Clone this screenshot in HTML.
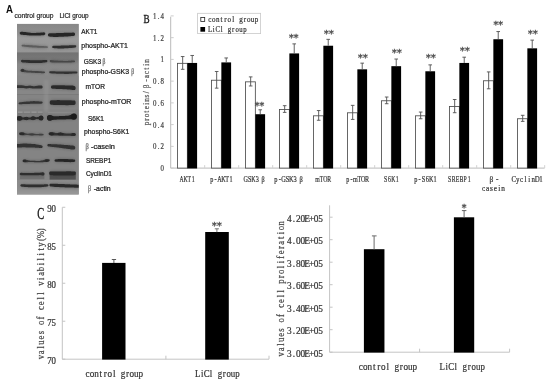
<!DOCTYPE html>
<html lang="en"><head><meta charset="utf-8"><title>Figure</title>
<style>html,body{margin:0;padding:0;background:#fff;}body{width:550px;height:390px;overflow:hidden;}svg{display:block;}.m{font-family:"Liberation Serif", "DejaVu Serif", serif;}.s{font-family:"Liberation Sans", "DejaVu Sans", sans-serif;}.r{font-family:"Liberation Serif", "DejaVu Serif", serif;}</style>
</head><body>
<svg width="550" height="390" viewBox="0 0 550 390">
<defs>
<filter id="b1" filterUnits="userSpaceOnUse" x="0" y="0" width="160" height="200"><feGaussianBlur stdDeviation="0.68"/></filter>
<filter id="b2" filterUnits="userSpaceOnUse" x="0" y="0" width="160" height="200"><feGaussianBlur stdDeviation="1.1"/></filter>
<filter id="b3" filterUnits="userSpaceOnUse" x="0" y="0" width="160" height="200"><feGaussianBlur stdDeviation="2"/></filter>
<filter id="tb" x="-5%" y="-20%" width="110%" height="140%"><feGaussianBlur stdDeviation="0.3"/></filter>
<clipPath id="blotclip"><rect x="17" y="23.8" width="61.7" height="170.6"/></clipPath>
<linearGradient id="p1" x1="0" y1="0" x2="0" y2="1"><stop offset="0" stop-color="#888"/><stop offset="0.2" stop-color="#8c8c8c"/><stop offset="0.5" stop-color="#9a9a9a"/><stop offset="1" stop-color="#959595"/></linearGradient>
<linearGradient id="p2" x1="0" y1="0" x2="0" y2="1"><stop offset="0" stop-color="#727272"/><stop offset="0.3" stop-color="#787878"/><stop offset="0.5" stop-color="#888"/><stop offset="1" stop-color="#8a8a8a"/></linearGradient>
<linearGradient id="p3" x1="0" y1="0" x2="0" y2="1"><stop offset="0" stop-color="#8a8a8a"/><stop offset="0.6" stop-color="#8e8e8e"/><stop offset="1" stop-color="#9a9a9a"/></linearGradient>
</defs>
<g id="panelA">
<text class="s" x="6.0" y="12.8" font-size="10.2" font-weight="bold" textLength="7" lengthAdjust="spacingAndGlyphs" fill="#111">A</text>
<text class="s" x="14.4" y="17.9" font-size="7.5" fill="#1c1c1c" stroke="#1c1c1c" stroke-width="0.2" textLength="39.2" lengthAdjust="spacingAndGlyphs">control group</text>
<text class="s" x="59.4" y="17.9" font-size="7.5" fill="#1c1c1c" stroke="#1c1c1c" stroke-width="0.2" textLength="29.2" lengthAdjust="spacingAndGlyphs">LiCl group</text>
<g clip-path="url(#blotclip)">
<rect x="17" y="23.8" width="62" height="171" fill="#838383"/>
<rect x="17" y="23.8" width="61.6" height="28.8" fill="url(#p1)"/>
<rect x="17" y="52.5" width="61.6" height="23.4" fill="url(#p2)"/>
<rect x="17" y="75.8" width="62" height="19" fill="#878787"/>
<rect x="17" y="94.3" width="62" height="0.8" fill="#777"/>
<rect x="17" y="95" width="62" height="14.4" fill="#848484"/>
<rect x="17" y="109.2" width="62" height="29" fill="#828282"/>
<rect x="17" y="138" width="62" height="42" fill="#848484"/>
<rect x="17" y="180" width="62" height="15" fill="url(#p3)"/>
<rect x="44.2" y="80" width="4.2" height="32" fill="#9a9a9a" opacity="0.4" filter="url(#b2)"/>
<rect x="49.6" y="171.8" width="26.2" height="7.8" fill="#444" opacity="0.8" filter="url(#b1)"/>
<rect x="19.8" y="172.8" width="24.6" height="6.4" fill="#5a5a5a" opacity="0.45" filter="url(#b1)"/>
<path d="M19.8 32.3L22.1 31.1L24.4 31.2L26.7 31.5L29.0 31.8L31.3 32.1L33.7 32.1L36.0 32.1L38.3 32.0L40.6 31.9L42.9 31.7L45.2 32.8L45.2 34.5L42.9 36.0L40.6 36.2L38.3 36.3L36.0 36.3L33.7 36.3L31.3 36.3L29.0 36.1L26.7 35.9L24.4 35.7L22.1 35.5L19.8 34.1Z" fill="#3a3a3a" filter="url(#b2)" opacity="0.3"/>
<path d="M48.0 34.0L50.5 32.5L52.9 32.5L55.4 32.4L57.8 32.3L60.3 32.2L62.7 32.1L65.2 32.0L67.6 32.0L70.1 31.9L72.5 31.9L75.0 33.3L75.0 35.2L72.5 36.8L70.1 37.0L67.6 37.2L65.2 37.3L62.7 37.4L60.3 37.5L57.8 37.6L55.4 37.7L52.9 37.6L50.5 37.4L48.0 35.9Z" fill="#3a3a3a" filter="url(#b2)" opacity="0.3"/>
<path d="M21.6 44.9L24.0 44.0L26.4 44.2L28.8 44.3L31.2 44.5L33.6 44.7L36.0 44.9L38.4 45.1L40.8 45.2L43.2 45.4L45.6 45.5L48.0 46.5L48.0 47.7L45.6 48.6L43.2 48.6L40.8 48.6L38.4 48.5L36.0 48.4L33.6 48.2L31.2 48.1L28.8 47.9L26.4 47.6L24.0 47.4L21.6 46.2Z" fill="#3a3a3a" filter="url(#b2)" opacity="0.3"/>
<path d="M52.2 46.1L54.4 45.0L56.6 45.0L58.7 44.9L60.9 44.9L63.1 44.8L65.3 44.7L67.5 44.7L69.7 44.6L71.8 44.5L74.0 44.4L76.2 45.5L76.2 47.1L74.0 48.5L71.8 48.7L69.7 48.8L67.5 49.0L65.3 49.0L63.1 49.1L60.9 49.2L58.7 49.2L56.6 49.1L54.4 48.9L52.2 47.7Z" fill="#3a3a3a" filter="url(#b2)" opacity="0.3"/>
<path d="M21.0 60.2L23.4 59.1L25.8 59.2L28.2 59.3L30.6 59.4L33.0 59.5L35.4 59.5L37.8 59.5L40.2 59.5L42.6 59.4L45.0 59.2L47.4 60.3L47.4 61.8L45.0 63.2L42.6 63.5L40.2 63.7L37.8 63.8L35.4 63.8L33.0 63.8L30.6 63.8L28.2 63.6L25.8 63.4L23.4 63.2L21.0 61.8Z" fill="#3a3a3a" filter="url(#b2)" opacity="0.3"/>
<path d="M49.8 60.4L52.1 59.4L54.4 59.6L56.7 59.8L59.0 59.9L61.3 60.0L63.5 60.1L65.8 60.2L68.1 60.1L70.4 59.9L72.7 59.8L75.0 60.7L75.0 62.0L72.7 63.1L70.4 63.2L68.1 63.3L65.8 63.3L63.5 63.3L61.3 63.3L59.0 63.3L56.7 63.3L54.4 63.2L52.1 63.1L49.8 61.9Z" fill="#3a3a3a" filter="url(#b2)" opacity="0.3"/>
<path d="M20.4 69.6L22.6 68.6L24.9 69.1L27.1 69.7L29.3 70.0L31.6 70.1L33.8 70.2L36.1 70.3L38.3 70.4L40.5 70.5L42.8 70.7L45.0 71.7L45.0 73.0L42.8 73.9L40.5 73.9L38.3 73.8L36.1 73.7L33.8 73.6L31.6 73.4L29.3 73.3L27.1 73.2L24.9 73.0L22.6 72.7L20.4 71.3Z" fill="#3a3a3a" filter="url(#b2)" opacity="0.3"/>
<path d="M49.2 71.5L51.8 70.5L54.3 70.6L56.9 70.6L59.5 70.7L62.0 70.7L64.6 70.7L67.1 70.7L69.7 70.7L72.3 70.7L74.8 70.7L77.4 71.7L77.4 73.1L74.8 74.3L72.3 74.4L69.7 74.5L67.1 74.6L64.6 74.6L62.0 74.6L59.5 74.5L56.9 74.5L54.3 74.3L51.8 74.1L49.2 72.9Z" fill="#3a3a3a" filter="url(#b2)" opacity="0.3"/>
<path d="M15.0 85.8L17.5 84.5L20.0 84.5L22.5 84.7L25.0 85.0L27.5 85.1L30.1 85.0L32.6 85.2L35.1 85.3L37.6 85.0L40.1 84.8L42.6 86.2L42.6 88.0L40.1 89.3L37.6 89.2L35.1 89.2L32.6 89.1L30.1 89.0L27.5 89.0L25.0 89.0L22.5 88.8L20.0 88.7L17.5 88.7L15.0 87.5Z" fill="#3a3a3a" filter="url(#b2)" opacity="0.3"/>
<path d="M51.0 86.1L53.2 84.6L55.5 84.5L57.7 84.5L59.9 84.5L62.2 84.6L64.4 84.6L66.7 84.6L68.9 84.7L71.1 84.8L73.4 85.0L75.6 87.0L75.6 89.2L73.4 90.8L71.1 90.5L68.9 90.3L66.7 90.1L64.4 90.0L62.2 89.9L59.9 89.8L57.7 89.7L55.5 89.6L53.2 89.5L51.0 88.0Z" fill="#3a3a3a" filter="url(#b2)" opacity="0.3"/>
<path d="M18.6 102.7L20.8 101.5L23.0 101.2L25.1 101.0L27.3 100.8L29.5 100.6L31.7 100.5L33.9 100.4L36.1 100.5L38.2 100.5L40.4 100.6L42.6 101.8L42.6 103.3L40.4 104.4L38.2 104.4L36.1 104.4L33.9 104.5L31.7 104.5L29.5 104.6L27.3 104.7L25.1 104.8L23.0 104.9L20.8 105.0L18.6 104.0Z" fill="#3a3a3a" filter="url(#b2)" opacity="0.3"/>
<path d="M49.8 101.3L52.1 99.5L54.5 99.4L56.8 99.4L59.2 99.4L61.5 99.4L63.9 99.4L66.2 99.5L68.6 99.5L70.9 99.6L73.3 99.7L75.6 101.5L75.6 103.9L73.3 105.7L70.9 105.8L68.6 105.9L66.2 105.9L63.9 105.9L61.5 105.9L59.2 105.8L56.8 105.8L54.5 105.7L52.1 105.6L49.8 103.7Z" fill="#3a3a3a" filter="url(#b2)" opacity="0.3"/>
<path d="M15.0 117.3L17.6 115.6L20.2 115.8L22.7 116.3L25.3 116.4L27.9 116.4L30.5 116.3L33.1 116.1L35.7 116.2L38.2 116.0L40.8 115.4L43.4 116.9L43.4 119.1L40.8 120.7L38.2 120.3L35.7 120.3L33.1 120.5L30.5 120.5L27.9 120.5L25.3 120.6L22.7 120.7L20.2 121.0L17.6 121.1L15.0 119.3Z" fill="#3a3a3a" filter="url(#b2)" opacity="0.3"/>
<path d="M47.0 116.6L49.7 114.8L52.4 115.1L55.1 115.4L57.8 115.4L60.5 115.4L63.1 115.2L65.8 115.1L68.5 114.7L71.2 113.9L73.9 113.3L76.6 115.2L76.6 117.8L73.9 120.0L71.2 120.0L68.5 120.0L65.8 120.1L63.1 120.2L60.5 120.3L57.8 120.4L55.1 120.5L52.4 120.7L49.7 120.9L47.0 119.0Z" fill="#3a3a3a" filter="url(#b2)" opacity="0.3"/>
<path d="M19.2 132.8L21.4 131.7L23.6 132.0L25.9 132.5L28.1 132.8L30.3 132.8L32.5 132.9L34.7 133.0L36.9 133.2L39.2 133.1L41.4 133.0L43.6 134.0L43.6 135.2L41.4 136.2L39.2 136.1L36.9 136.0L34.7 136.0L32.5 136.0L30.3 136.0L28.1 135.9L25.9 135.9L23.6 135.9L21.4 135.8L19.2 134.4Z" fill="#3a3a3a" filter="url(#b2)" opacity="0.3"/>
<path d="M48.6 132.9L51.1 131.6L53.5 131.8L56.0 132.1L58.5 132.1L61.0 132.0L63.4 132.3L65.9 132.6L68.4 132.7L70.9 132.6L73.3 132.4L75.8 133.7L75.8 135.3L73.3 136.6L70.9 136.6L68.4 136.5L65.9 136.5L63.4 136.4L61.0 136.4L58.5 136.3L56.0 136.2L53.5 136.1L51.1 136.1L48.6 134.7Z" fill="#3a3a3a" filter="url(#b2)" opacity="0.3"/>
<path d="M15.0 144.9L17.5 143.3L20.0 143.1L22.5 142.9L25.0 142.8L27.5 142.9L30.1 143.0L32.6 143.2L35.1 143.5L37.6 143.9L40.1 144.3L42.6 145.9L42.6 147.5L40.1 148.7L37.6 148.5L35.1 148.4L32.6 148.3L30.1 148.2L27.5 148.2L25.0 148.1L22.5 148.1L20.0 148.2L17.5 148.2L15.0 146.8Z" fill="#3a3a3a" filter="url(#b2)" opacity="0.3"/>
<path d="M47.4 144.5L49.9 143.4L52.5 143.4L55.0 143.5L57.5 143.6L60.0 143.8L62.6 144.0L65.1 144.2L67.6 144.4L70.1 144.6L72.7 144.8L75.2 146.7L75.2 148.8L72.7 150.3L70.1 150.0L67.6 149.6L65.1 149.3L62.6 148.9L60.0 148.6L57.5 148.3L55.0 148.0L52.5 147.7L49.9 147.4L47.4 146.0Z" fill="#3a3a3a" filter="url(#b2)" opacity="0.3"/>
<path d="M22.8 160.1L25.3 159.1L27.7 159.4L30.2 159.9L32.6 160.0L35.1 160.1L37.5 160.1L40.0 160.0L42.4 159.5L44.9 159.0L47.3 158.6L49.8 159.5L49.8 161.0L47.3 162.5L44.9 162.8L42.4 162.9L40.0 163.0L37.5 163.0L35.1 162.9L32.6 162.9L30.2 162.9L27.7 162.9L25.3 162.9L22.8 161.6Z" fill="#3a3a3a" filter="url(#b2)" opacity="0.3"/>
<path d="M54.6 159.8L56.5 158.5L58.3 158.3L60.2 158.2L62.1 158.1L64.0 158.2L65.8 158.3L67.7 158.4L69.6 158.4L71.5 158.5L73.3 158.6L75.2 159.9L75.2 161.5L73.3 162.8L71.5 162.9L69.6 162.9L67.7 162.8L65.8 162.7L64.0 162.6L62.1 162.6L60.2 162.5L58.3 162.6L56.5 162.6L54.6 161.4Z" fill="#3a3a3a" filter="url(#b2)" opacity="0.3"/>
<path d="M19.8 173.2L22.0 172.1L24.3 172.1L26.5 172.1L28.7 172.2L31.0 172.2L33.2 172.1L35.5 172.1L37.7 172.0L39.9 171.9L42.2 171.7L44.4 173.0L44.4 174.8L42.2 176.2L39.9 176.0L37.7 175.9L35.5 175.9L33.2 176.0L31.0 176.0L28.7 176.0L26.5 176.0L24.3 176.0L22.0 176.0L19.8 174.8Z" fill="#3a3a3a" filter="url(#b2)" opacity="0.3"/>
<path d="M49.2 172.2L51.6 170.6L54.0 170.6L56.5 170.6L58.9 170.6L61.3 170.6L63.7 170.6L66.1 170.6L68.5 170.6L71.0 170.6L73.4 170.7L75.8 172.3L75.8 174.5L73.4 176.1L71.0 176.2L68.5 176.3L66.1 176.3L63.7 176.3L61.3 176.3L58.9 176.3L56.5 176.2L54.0 176.1L51.6 176.0L49.2 174.4Z" fill="#3a3a3a" filter="url(#b2)" opacity="0.3"/>
<path d="M20.4 184.6L22.9 183.5L25.5 183.6L28.0 183.7L30.6 183.7L33.1 183.7L35.7 183.7L38.2 183.7L40.8 183.7L43.3 183.6L45.9 183.5L48.4 184.6L48.4 186.1L45.9 187.4L43.3 187.7L40.8 188.0L38.2 188.1L35.7 188.1L33.1 188.1L30.6 188.0L28.0 187.9L25.5 187.7L22.9 187.5L20.4 186.2Z" fill="#3a3a3a" filter="url(#b2)" opacity="0.3"/>
<path d="M49.4 184.2L52.2 183.0L55.0 183.0L57.7 183.1L60.5 183.2L63.3 183.3L66.1 183.4L68.9 183.5L71.7 183.7L74.4 183.8L77.2 183.9L80.0 185.4L80.0 187.2L77.2 188.5L74.4 188.4L71.7 188.3L68.9 188.3L66.1 188.2L63.3 188.1L60.5 188.0L57.7 187.8L55.0 187.6L52.2 187.4L49.4 185.9Z" fill="#3a3a3a" filter="url(#b2)" opacity="0.3"/>
<path d="M19.8 32.6L20.5 31.9L21.3 31.8L22.0 31.8L22.7 31.8L23.4 31.9L24.2 31.9L24.9 32.0L25.6 32.1L26.3 32.2L27.1 32.3L27.8 32.4L28.5 32.5L29.2 32.6L30.0 32.7L30.7 32.8L31.4 32.9L32.1 32.9L32.9 32.9L33.6 32.9L34.3 32.9L35.0 32.9L35.8 32.9L36.5 32.8L37.2 32.8L37.9 32.8L38.7 32.8L39.4 32.7L40.1 32.7L40.8 32.6L41.6 32.6L42.3 32.5L43.0 32.4L43.7 32.3L44.5 32.4L45.2 33.0L45.2 34.2L44.5 35.0L43.7 35.2L43.0 35.2L42.3 35.3L41.6 35.3L40.8 35.4L40.1 35.5L39.4 35.5L38.7 35.5L37.9 35.5L37.2 35.5L36.5 35.5L35.8 35.6L35.0 35.6L34.3 35.6L33.6 35.6L32.9 35.6L32.1 35.6L31.4 35.6L30.7 35.5L30.0 35.4L29.2 35.4L28.5 35.3L27.8 35.3L27.1 35.2L26.3 35.1L25.6 35.1L24.9 35.0L24.2 34.9L23.4 34.9L22.7 34.8L22.0 34.8L21.3 34.7L20.5 34.6L19.8 33.8Z" fill="#282828" filter="url(#b1)" opacity="1"/>
<path d="M48.0 34.3L48.8 33.4L49.5 33.3L50.3 33.3L51.1 33.2L51.9 33.2L52.6 33.2L53.4 33.2L54.2 33.2L54.9 33.2L55.7 33.2L56.5 33.1L57.3 33.1L58.0 33.1L58.8 33.0L59.6 33.0L60.3 33.0L61.1 33.0L61.9 32.9L62.7 32.9L63.4 32.9L64.2 32.8L65.0 32.8L65.7 32.8L66.5 32.8L67.3 32.8L68.1 32.7L68.8 32.7L69.6 32.7L70.4 32.7L71.1 32.7L71.9 32.7L72.7 32.6L73.5 32.6L74.2 32.7L75.0 33.6L75.0 34.9L74.2 35.8L73.5 35.9L72.7 36.0L71.9 36.1L71.1 36.1L70.4 36.2L69.6 36.2L68.8 36.3L68.1 36.4L67.3 36.4L66.5 36.5L65.7 36.5L65.0 36.6L64.2 36.6L63.4 36.7L62.7 36.7L61.9 36.7L61.1 36.8L60.3 36.8L59.6 36.8L58.8 36.8L58.0 36.9L57.3 36.9L56.5 36.9L55.7 37.0L54.9 37.0L54.2 36.9L53.4 36.9L52.6 36.8L51.9 36.8L51.1 36.7L50.3 36.7L49.5 36.6L48.8 36.5L48.0 35.6Z" fill="#262626" filter="url(#b1)" opacity="1"/>
<path d="M21.6 45.2L22.4 44.7L23.1 44.7L23.9 44.8L24.6 44.8L25.4 44.9L26.1 44.9L26.9 45.0L27.6 45.0L28.4 45.1L29.1 45.1L29.9 45.2L30.7 45.2L31.4 45.3L32.2 45.3L32.9 45.4L33.7 45.4L34.4 45.5L35.2 45.6L35.9 45.6L36.7 45.7L37.4 45.7L38.2 45.8L38.9 45.9L39.7 45.9L40.5 46.0L41.2 46.0L42.0 46.1L42.7 46.1L43.5 46.1L44.2 46.2L45.0 46.2L45.7 46.3L46.5 46.3L47.2 46.4L48.0 46.8L48.0 47.4L47.2 47.8L46.5 47.8L45.7 47.8L45.0 47.8L44.2 47.8L43.5 47.8L42.7 47.8L42.0 47.8L41.2 47.8L40.5 47.8L39.7 47.8L38.9 47.8L38.2 47.7L37.4 47.7L36.7 47.6L35.9 47.6L35.2 47.6L34.4 47.5L33.7 47.5L32.9 47.4L32.2 47.4L31.4 47.3L30.7 47.3L29.9 47.2L29.1 47.2L28.4 47.1L27.6 47.0L26.9 46.9L26.1 46.8L25.4 46.8L24.6 46.7L23.9 46.6L23.1 46.5L22.4 46.4L21.6 45.9Z" fill="#5c5c5c" filter="url(#b1)" opacity="1"/>
<path d="M52.2 46.4L52.9 45.9L53.6 45.7L54.3 45.7L54.9 45.7L55.6 45.7L56.3 45.7L57.0 45.7L57.7 45.7L58.4 45.7L59.1 45.7L59.7 45.7L60.4 45.7L61.1 45.6L61.8 45.6L62.5 45.6L63.2 45.6L63.9 45.5L64.5 45.5L65.2 45.5L65.9 45.5L66.6 45.4L67.3 45.4L68.0 45.4L68.7 45.4L69.3 45.3L70.0 45.3L70.7 45.3L71.4 45.3L72.1 45.3L72.8 45.2L73.5 45.2L74.1 45.2L74.8 45.2L75.5 45.3L76.2 45.8L76.2 46.8L75.5 47.4L74.8 47.6L74.1 47.7L73.5 47.7L72.8 47.8L72.1 47.9L71.4 47.9L70.7 48.0L70.0 48.1L69.3 48.1L68.7 48.1L68.0 48.2L67.3 48.2L66.6 48.2L65.9 48.3L65.2 48.3L64.5 48.3L63.9 48.4L63.2 48.4L62.5 48.4L61.8 48.4L61.1 48.5L60.4 48.5L59.7 48.5L59.1 48.5L58.4 48.4L57.7 48.4L57.0 48.3L56.3 48.3L55.6 48.3L54.9 48.2L54.3 48.2L53.6 48.1L52.9 48.0L52.2 47.4Z" fill="#2e2e2e" filter="url(#b1)" opacity="1"/>
<path d="M21.0 60.5L21.8 59.9L22.5 59.8L23.3 59.9L24.0 59.9L24.8 59.9L25.5 60.0L26.3 60.0L27.0 60.0L27.8 60.1L28.5 60.1L29.3 60.1L30.1 60.2L30.8 60.2L31.6 60.2L32.3 60.2L33.1 60.2L33.8 60.2L34.6 60.2L35.3 60.3L36.1 60.3L36.8 60.3L37.6 60.3L38.3 60.3L39.1 60.3L39.9 60.3L40.6 60.3L41.4 60.2L42.1 60.2L42.9 60.1L43.6 60.1L44.4 60.0L45.1 60.0L45.9 60.0L46.6 60.0L47.4 60.6L47.4 61.5L46.6 62.2L45.9 62.3L45.1 62.4L44.4 62.5L43.6 62.6L42.9 62.7L42.1 62.8L41.4 62.9L40.6 63.0L39.9 63.1L39.1 63.1L38.3 63.1L37.6 63.1L36.8 63.1L36.1 63.1L35.3 63.1L34.6 63.0L33.8 63.0L33.1 63.0L32.3 63.0L31.6 63.0L30.8 63.0L30.1 63.0L29.3 63.0L28.5 62.9L27.8 62.8L27.0 62.8L26.3 62.7L25.5 62.6L24.8 62.6L24.0 62.5L23.3 62.4L22.5 62.4L21.8 62.2L21.0 61.5Z" fill="#2e2e2e" filter="url(#b1)" opacity="1"/>
<path d="M49.8 60.6L50.5 60.1L51.2 60.1L52.0 60.2L52.7 60.2L53.4 60.3L54.1 60.4L54.8 60.5L55.6 60.5L56.3 60.6L57.0 60.6L57.7 60.6L58.4 60.7L59.2 60.7L59.9 60.7L60.6 60.8L61.3 60.8L62.0 60.8L62.8 60.8L63.5 60.9L64.2 60.9L64.9 60.9L65.6 61.0L66.4 61.0L67.1 60.9L67.8 60.9L68.5 60.8L69.2 60.8L70.0 60.7L70.7 60.7L71.4 60.6L72.1 60.6L72.8 60.5L73.6 60.5L74.3 60.5L75.0 60.9L75.0 61.7L74.3 62.2L73.6 62.3L72.8 62.3L72.1 62.3L71.4 62.4L70.7 62.4L70.0 62.4L69.2 62.5L68.5 62.5L67.8 62.5L67.1 62.6L66.4 62.6L65.6 62.6L64.9 62.6L64.2 62.6L63.5 62.6L62.8 62.6L62.0 62.6L61.3 62.6L60.6 62.6L59.9 62.5L59.2 62.5L58.4 62.5L57.7 62.5L57.0 62.5L56.3 62.5L55.6 62.5L54.8 62.5L54.1 62.5L53.4 62.4L52.7 62.4L52.0 62.4L51.2 62.3L50.5 62.2L49.8 61.6Z" fill="#464646" filter="url(#b1)" opacity="1"/>
<path d="M20.4 69.9L21.1 69.3L21.8 69.2L22.5 69.2L23.2 69.3L23.9 69.5L24.6 69.8L25.3 70.0L26.0 70.3L26.7 70.5L27.4 70.6L28.1 70.7L28.8 70.7L29.5 70.7L30.2 70.8L30.9 70.8L31.6 70.8L32.3 70.9L33.1 70.9L33.8 70.9L34.5 71.0L35.2 71.0L35.9 71.0L36.6 71.1L37.3 71.1L38.0 71.1L38.7 71.2L39.4 71.2L40.1 71.3L40.8 71.3L41.5 71.3L42.2 71.4L42.9 71.4L43.6 71.5L44.3 71.6L45.0 72.0L45.0 72.7L44.3 73.1L43.6 73.2L42.9 73.2L42.2 73.2L41.5 73.2L40.8 73.1L40.1 73.1L39.4 73.1L38.7 73.1L38.0 73.0L37.3 73.0L36.6 73.0L35.9 72.9L35.2 72.9L34.5 72.8L33.8 72.8L33.1 72.8L32.3 72.7L31.6 72.7L30.9 72.6L30.2 72.6L29.5 72.6L28.8 72.5L28.1 72.5L27.4 72.4L26.7 72.4L26.0 72.3L25.3 72.2L24.6 72.2L23.9 72.1L23.2 72.0L22.5 71.9L21.8 71.8L21.1 71.6L20.4 70.9Z" fill="#444444" filter="url(#b1)" opacity="1"/>
<path d="M49.2 71.8L50.0 71.2L50.8 71.2L51.6 71.3L52.4 71.3L53.2 71.3L54.0 71.3L54.8 71.3L55.6 71.4L56.5 71.4L57.3 71.4L58.1 71.4L58.9 71.4L59.7 71.4L60.5 71.4L61.3 71.4L62.1 71.5L62.9 71.5L63.7 71.5L64.5 71.5L65.3 71.5L66.1 71.5L66.9 71.5L67.7 71.5L68.5 71.5L69.3 71.5L70.1 71.5L71.0 71.5L71.8 71.5L72.6 71.5L73.4 71.4L74.2 71.4L75.0 71.4L75.8 71.4L76.6 71.4L77.4 72.0L77.4 72.8L76.6 73.4L75.8 73.5L75.0 73.5L74.2 73.6L73.4 73.6L72.6 73.6L71.8 73.7L71.0 73.7L70.1 73.8L69.3 73.8L68.5 73.9L67.7 73.9L66.9 73.9L66.1 73.9L65.3 73.9L64.5 73.9L63.7 73.8L62.9 73.8L62.1 73.8L61.3 73.8L60.5 73.8L59.7 73.8L58.9 73.8L58.1 73.8L57.3 73.7L56.5 73.7L55.6 73.6L54.8 73.6L54.0 73.5L53.2 73.5L52.4 73.4L51.6 73.4L50.8 73.3L50.0 73.2L49.2 72.6Z" fill="#323232" filter="url(#b1)" opacity="1"/>
<path d="M15.0 86.2L15.8 85.4L16.6 85.3L17.4 85.3L18.2 85.3L18.9 85.3L19.7 85.2L20.5 85.2L21.3 85.2L22.1 85.2L22.9 85.4L23.7 85.6L24.5 85.8L25.3 86.0L26.0 86.1L26.8 86.0L27.6 85.9L28.4 85.8L29.2 85.7L30.0 85.6L30.8 85.7L31.6 85.9L32.3 86.1L33.1 86.2L33.9 86.3L34.7 86.2L35.5 86.1L36.3 85.9L37.1 85.8L37.9 85.7L38.7 85.6L39.4 85.6L40.2 85.6L41.0 85.5L41.8 85.6L42.6 86.5L42.6 87.7L41.8 88.6L41.0 88.6L40.2 88.5L39.4 88.5L38.7 88.4L37.9 88.4L37.1 88.4L36.3 88.4L35.5 88.5L34.7 88.6L33.9 88.6L33.1 88.6L32.3 88.4L31.6 88.3L30.8 88.2L30.0 88.1L29.2 88.1L28.4 88.2L27.6 88.3L26.8 88.4L26.0 88.4L25.3 88.3L24.5 88.2L23.7 88.1L22.9 88.0L22.1 87.9L21.3 87.9L20.5 87.9L19.7 87.9L18.9 87.9L18.2 87.9L17.4 88.0L16.6 88.0L15.8 88.0L15.0 87.2Z" fill="#323232" filter="url(#b1)" opacity="1"/>
<path d="M51.0 86.4L51.7 85.5L52.4 85.4L53.1 85.3L53.8 85.3L54.5 85.3L55.2 85.3L55.9 85.3L56.6 85.3L57.3 85.3L58.0 85.3L58.7 85.3L59.4 85.3L60.1 85.3L60.8 85.3L61.5 85.3L62.2 85.3L62.9 85.3L63.7 85.3L64.4 85.3L65.1 85.4L65.8 85.4L66.5 85.4L67.2 85.4L67.9 85.4L68.6 85.4L69.3 85.5L70.0 85.5L70.7 85.5L71.4 85.5L72.1 85.6L72.8 85.6L73.5 85.7L74.2 85.9L74.9 86.2L75.6 87.4L75.6 89.0L74.9 89.9L74.2 90.1L73.5 90.0L72.8 90.0L72.1 89.9L71.4 89.8L70.7 89.7L70.0 89.6L69.3 89.5L68.6 89.5L67.9 89.4L67.2 89.4L66.5 89.3L65.8 89.3L65.1 89.3L64.4 89.2L63.7 89.2L62.9 89.2L62.2 89.1L61.5 89.1L60.8 89.1L60.1 89.0L59.4 89.0L58.7 89.0L58.0 89.0L57.3 88.9L56.6 88.9L55.9 88.9L55.2 88.8L54.5 88.8L53.8 88.8L53.1 88.7L52.4 88.7L51.7 88.5L51.0 87.7Z" fill="#2c2c2c" filter="url(#b1)" opacity="1"/>
<path d="M18.6 103.0L19.3 102.5L20.0 102.3L20.7 102.3L21.3 102.2L22.0 102.1L22.7 102.0L23.4 101.9L24.1 101.8L24.8 101.8L25.5 101.7L26.1 101.6L26.8 101.6L27.5 101.5L28.2 101.5L28.9 101.4L29.6 101.4L30.3 101.3L30.9 101.3L31.6 101.3L32.3 101.2L33.0 101.2L33.7 101.1L34.4 101.1L35.1 101.2L35.7 101.2L36.4 101.2L37.1 101.3L37.8 101.3L38.5 101.3L39.2 101.4L39.9 101.4L40.5 101.4L41.2 101.4L41.9 101.6L42.6 102.2L42.6 103.0L41.9 103.6L41.2 103.7L40.5 103.7L39.9 103.7L39.2 103.7L38.5 103.7L37.8 103.7L37.1 103.7L36.4 103.7L35.7 103.7L35.1 103.7L34.4 103.7L33.7 103.7L33.0 103.7L32.3 103.7L31.6 103.8L30.9 103.8L30.3 103.8L29.6 103.9L28.9 103.9L28.2 103.9L27.5 103.9L26.8 104.0L26.1 104.0L25.5 104.0L24.8 104.0L24.1 104.1L23.4 104.1L22.7 104.1L22.0 104.2L21.3 104.2L20.7 104.2L20.0 104.2L19.3 104.2L18.6 103.7Z" fill="#363636" filter="url(#b1)" opacity="1"/>
<path d="M49.8 101.6L50.5 100.5L51.3 100.3L52.0 100.3L52.7 100.2L53.5 100.2L54.2 100.2L55.0 100.2L55.7 100.2L56.4 100.2L57.2 100.1L57.9 100.1L58.6 100.1L59.4 100.1L60.1 100.2L60.9 100.2L61.6 100.2L62.3 100.2L63.1 100.2L63.8 100.2L64.5 100.2L65.3 100.2L66.0 100.2L66.8 100.2L67.5 100.2L68.2 100.2L69.0 100.3L69.7 100.3L70.4 100.3L71.2 100.3L71.9 100.4L72.7 100.4L73.4 100.4L74.1 100.5L74.9 100.6L75.6 101.8L75.6 103.6L74.9 104.8L74.1 104.9L73.4 105.0L72.7 105.0L71.9 105.0L71.2 105.1L70.4 105.1L69.7 105.1L69.0 105.1L68.2 105.2L67.5 105.2L66.8 105.2L66.0 105.2L65.3 105.1L64.5 105.1L63.8 105.1L63.1 105.1L62.3 105.1L61.6 105.1L60.9 105.1L60.1 105.1L59.4 105.1L58.6 105.1L57.9 105.1L57.2 105.0L56.4 105.0L55.7 105.0L55.0 104.9L54.2 104.9L53.5 104.9L52.7 104.8L52.0 104.8L51.3 104.8L50.5 104.6L49.8 103.4Z" fill="#2c2c2c" filter="url(#b1)" opacity="1"/>
<path d="M15.0 117.6L15.8 116.5L16.6 116.4L17.4 116.4L18.2 116.3L19.1 116.2L19.9 116.3L20.7 116.5L21.5 116.9L22.3 117.2L23.1 117.4L23.9 117.3L24.7 117.2L25.5 117.0L26.4 116.9L27.2 117.0L28.0 117.2L28.8 117.4L29.6 117.5L30.4 117.4L31.2 117.1L32.0 116.8L32.9 116.6L33.7 116.6L34.5 116.8L35.3 117.0L36.1 117.2L36.9 117.2L37.7 117.1L38.5 116.9L39.3 116.5L40.2 116.1L41.0 115.8L41.8 115.8L42.6 116.0L43.4 117.3L43.4 118.7L42.6 120.0L41.8 120.2L41.0 120.2L40.2 120.0L39.3 119.6L38.5 119.3L37.7 119.2L36.9 119.1L36.1 119.2L35.3 119.4L34.5 119.7L33.7 119.9L32.9 120.0L32.0 119.9L31.2 119.7L30.4 119.5L29.6 119.5L28.8 119.6L28.0 119.8L27.2 120.0L26.4 120.1L25.5 120.0L24.7 119.8L23.9 119.7L23.1 119.6L22.3 119.7L21.5 120.0L20.7 120.3L19.9 120.6L19.1 120.6L18.2 120.5L17.4 120.3L16.6 120.2L15.8 120.1L15.0 119.0Z" fill="#2a2a2a" filter="url(#b1)" opacity="1"/>
<path d="M47.0 116.9L47.8 115.6L48.7 115.4L49.5 115.3L50.4 115.4L51.2 115.6L52.1 115.8L52.9 116.0L53.8 116.2L54.6 116.3L55.5 116.3L56.3 116.2L57.1 116.2L58.0 116.2L58.8 116.2L59.7 116.1L60.5 116.1L61.4 116.1L62.2 116.1L63.1 116.0L63.9 116.0L64.8 115.9L65.6 115.8L66.5 115.8L67.3 115.7L68.1 115.7L69.0 115.5L69.8 115.3L70.7 114.9L71.5 114.6L72.4 114.2L73.2 113.9L74.1 113.8L74.9 113.8L75.8 114.0L76.6 115.5L76.6 117.5L75.8 119.0L74.9 119.2L74.1 119.3L73.2 119.3L72.4 119.3L71.5 119.3L70.7 119.3L69.8 119.2L69.0 119.2L68.1 119.2L67.3 119.3L66.5 119.3L65.6 119.4L64.8 119.4L63.9 119.4L63.1 119.5L62.2 119.5L61.4 119.5L60.5 119.5L59.7 119.6L58.8 119.6L58.0 119.6L57.1 119.6L56.3 119.7L55.5 119.7L54.6 119.7L53.8 119.8L52.9 119.9L52.1 120.0L51.2 120.1L50.4 120.3L49.5 120.3L48.7 120.2L47.8 120.0L47.0 118.7Z" fill="#202020" filter="url(#b1)" opacity="1"/>
<path d="M19.2 133.1L19.9 132.5L20.6 132.4L21.3 132.4L22.0 132.4L22.7 132.4L23.4 132.5L24.1 132.7L24.8 133.0L25.5 133.2L26.2 133.5L26.9 133.6L27.6 133.7L28.3 133.7L29.0 133.6L29.7 133.6L30.4 133.6L31.1 133.5L31.7 133.5L32.4 133.6L33.1 133.6L33.8 133.7L34.5 133.8L35.2 133.8L35.9 133.9L36.6 134.0L37.3 134.0L38.0 133.9L38.7 133.9L39.4 133.8L40.1 133.8L40.8 133.7L41.5 133.7L42.2 133.7L42.9 133.9L43.6 134.3L43.6 134.9L42.9 135.3L42.2 135.5L41.5 135.5L40.8 135.5L40.1 135.4L39.4 135.4L38.7 135.3L38.0 135.3L37.3 135.2L36.6 135.2L35.9 135.2L35.2 135.2L34.5 135.2L33.8 135.3L33.1 135.3L32.4 135.3L31.7 135.3L31.1 135.3L30.4 135.2L29.7 135.2L29.0 135.2L28.3 135.1L27.6 135.1L26.9 135.1L26.2 135.1L25.5 135.1L24.8 135.2L24.1 135.2L23.4 135.2L22.7 135.2L22.0 135.1L21.3 135.0L20.6 135.0L19.9 134.8L19.2 134.1Z" fill="#3f3f3f" filter="url(#b1)" opacity="1"/>
<path d="M48.6 133.3L49.4 132.5L50.2 132.3L50.9 132.3L51.7 132.2L52.5 132.3L53.3 132.5L54.0 132.6L54.8 132.8L55.6 132.9L56.4 133.0L57.1 132.9L57.9 132.9L58.7 132.8L59.5 132.7L60.3 132.6L61.0 132.7L61.8 132.8L62.6 132.9L63.4 133.1L64.1 133.2L64.9 133.3L65.7 133.4L66.5 133.6L67.3 133.6L68.0 133.6L68.8 133.5L69.6 133.4L70.4 133.4L71.1 133.3L71.9 133.2L72.7 133.1L73.5 133.1L74.2 133.1L75.0 133.3L75.8 134.0L75.8 135.0L75.0 135.7L74.2 135.9L73.5 135.9L72.7 135.9L71.9 135.9L71.1 135.9L70.4 135.8L69.6 135.8L68.8 135.8L68.0 135.8L67.3 135.8L66.5 135.7L65.7 135.7L64.9 135.7L64.1 135.7L63.4 135.7L62.6 135.7L61.8 135.6L61.0 135.6L60.3 135.6L59.5 135.6L58.7 135.5L57.9 135.5L57.1 135.4L56.4 135.4L55.6 135.4L54.8 135.4L54.0 135.4L53.3 135.4L52.5 135.4L51.7 135.4L50.9 135.3L50.2 135.3L49.4 135.1L48.6 134.3Z" fill="#303030" filter="url(#b1)" opacity="1"/>
<path d="M15.0 145.2L15.8 144.3L16.6 144.1L17.4 144.1L18.2 144.0L18.9 143.9L19.7 143.9L20.5 143.8L21.3 143.7L22.1 143.7L22.9 143.6L23.7 143.5L24.5 143.5L25.3 143.6L26.0 143.6L26.8 143.6L27.6 143.7L28.4 143.7L29.2 143.8L30.0 143.8L30.8 143.8L31.6 143.9L32.3 143.9L33.1 144.0L33.9 144.0L34.7 144.1L35.5 144.3L36.3 144.4L37.1 144.6L37.9 144.7L38.7 144.8L39.4 145.0L40.2 145.1L41.0 145.3L41.8 145.5L42.6 146.3L42.6 147.3L41.8 147.9L41.0 148.0L40.2 147.9L39.4 147.9L38.7 147.8L37.9 147.8L37.1 147.8L36.3 147.7L35.5 147.7L34.7 147.6L33.9 147.6L33.1 147.6L32.3 147.6L31.6 147.5L30.8 147.5L30.0 147.5L29.2 147.5L28.4 147.4L27.6 147.4L26.8 147.4L26.0 147.4L25.3 147.3L24.5 147.3L23.7 147.3L22.9 147.3L22.1 147.3L21.3 147.4L20.5 147.4L19.7 147.4L18.9 147.4L18.2 147.4L17.4 147.5L16.6 147.5L15.8 147.4L15.0 146.5Z" fill="#303030" filter="url(#b1)" opacity="1"/>
<path d="M47.4 144.8L48.2 144.1L49.0 144.1L49.8 144.1L50.6 144.1L51.4 144.2L52.2 144.2L53.0 144.2L53.8 144.2L54.5 144.2L55.3 144.3L56.1 144.3L56.9 144.3L57.7 144.4L58.5 144.5L59.3 144.5L60.1 144.6L60.9 144.6L61.7 144.7L62.5 144.7L63.3 144.8L64.1 144.9L64.9 144.9L65.7 145.0L66.5 145.0L67.3 145.1L68.1 145.2L68.8 145.2L69.6 145.3L70.4 145.4L71.2 145.4L72.0 145.5L72.8 145.6L73.6 145.7L74.4 145.9L75.2 147.1L75.2 148.5L74.4 149.6L73.6 149.6L72.8 149.6L72.0 149.5L71.2 149.4L70.4 149.3L69.6 149.1L68.8 149.0L68.1 148.9L67.3 148.8L66.5 148.7L65.7 148.6L64.9 148.5L64.1 148.4L63.3 148.3L62.5 148.2L61.7 148.1L60.9 148.0L60.1 147.8L59.3 147.7L58.5 147.6L57.7 147.5L56.9 147.4L56.1 147.3L55.3 147.2L54.5 147.2L53.8 147.1L53.0 147.0L52.2 146.9L51.4 146.8L50.6 146.7L49.8 146.6L49.0 146.5L48.2 146.4L47.4 145.7Z" fill="#303030" filter="url(#b1)" opacity="1"/>
<path d="M22.8 160.4L23.6 159.7L24.3 159.7L25.1 159.7L25.9 159.8L26.7 159.9L27.4 160.1L28.2 160.3L29.0 160.5L29.7 160.6L30.5 160.7L31.3 160.8L32.1 160.8L32.8 160.8L33.6 160.8L34.4 160.8L35.1 160.8L35.9 160.9L36.7 160.9L37.5 160.9L38.2 160.9L39.0 160.9L39.8 160.9L40.5 160.8L41.3 160.6L42.1 160.4L42.9 160.2L43.6 160.0L44.4 159.8L45.2 159.6L45.9 159.4L46.7 159.3L47.5 159.3L48.3 159.2L49.0 159.3L49.8 159.8L49.8 160.6L49.0 161.4L48.3 161.6L47.5 161.7L46.7 161.9L45.9 162.0L45.2 162.1L44.4 162.1L43.6 162.1L42.9 162.2L42.1 162.2L41.3 162.2L40.5 162.2L39.8 162.3L39.0 162.2L38.2 162.2L37.5 162.2L36.7 162.2L35.9 162.2L35.1 162.2L34.4 162.2L33.6 162.1L32.8 162.1L32.1 162.1L31.3 162.1L30.5 162.1L29.7 162.1L29.0 162.1L28.2 162.1L27.4 162.2L26.7 162.2L25.9 162.2L25.1 162.2L24.3 162.1L23.6 162.0L22.8 161.3Z" fill="#363636" filter="url(#b1)" opacity="1"/>
<path d="M54.6 160.1L55.2 159.5L55.8 159.3L56.4 159.2L57.0 159.2L57.5 159.2L58.1 159.1L58.7 159.1L59.3 159.0L59.9 159.0L60.5 158.9L61.1 158.9L61.7 158.9L62.3 158.9L62.8 158.9L63.4 158.9L64.0 158.9L64.6 159.0L65.2 159.0L65.8 159.0L66.4 159.0L67.0 159.1L67.5 159.1L68.1 159.1L68.7 159.2L69.3 159.2L69.9 159.2L70.5 159.2L71.1 159.3L71.7 159.3L72.3 159.3L72.8 159.3L73.4 159.4L74.0 159.4L74.6 159.6L75.2 160.2L75.2 161.2L74.6 161.8L74.0 162.0L73.4 162.0L72.8 162.1L72.3 162.1L71.7 162.1L71.1 162.1L70.5 162.2L69.9 162.2L69.3 162.1L68.7 162.1L68.1 162.1L67.5 162.0L67.0 162.0L66.4 162.0L65.8 162.0L65.2 161.9L64.6 161.9L64.0 161.9L63.4 161.8L62.8 161.8L62.3 161.8L61.7 161.8L61.1 161.8L60.5 161.8L59.9 161.8L59.3 161.8L58.7 161.8L58.1 161.8L57.5 161.8L57.0 161.8L56.4 161.8L55.8 161.8L55.2 161.6L54.6 161.1Z" fill="#282828" filter="url(#b1)" opacity="1"/>
<path d="M19.8 173.5L20.5 172.9L21.2 172.8L21.9 172.8L22.6 172.9L23.3 172.9L24.0 172.9L24.7 172.9L25.4 172.9L26.1 172.9L26.8 172.9L27.5 172.9L28.2 172.9L28.9 172.9L29.6 173.0L30.3 172.9L31.0 172.9L31.7 172.9L32.5 172.9L33.2 172.9L33.9 172.9L34.6 172.8L35.3 172.8L36.0 172.8L36.7 172.8L37.4 172.8L38.1 172.7L38.8 172.7L39.5 172.7L40.2 172.7L40.9 172.6L41.6 172.5L42.3 172.3L43.0 172.2L43.7 172.4L44.4 173.2L44.4 174.6L43.7 175.4L43.0 175.6L42.3 175.5L41.6 175.3L40.9 175.2L40.2 175.1L39.5 175.1L38.8 175.2L38.1 175.2L37.4 175.2L36.7 175.2L36.0 175.2L35.3 175.2L34.6 175.2L33.9 175.2L33.2 175.2L32.5 175.2L31.7 175.2L31.0 175.2L30.3 175.2L29.6 175.2L28.9 175.2L28.2 175.2L27.5 175.2L26.8 175.2L26.1 175.2L25.4 175.2L24.7 175.2L24.0 175.2L23.3 175.2L22.6 175.2L21.9 175.2L21.2 175.2L20.5 175.1L19.8 174.5Z" fill="#2e2e2e" filter="url(#b1)" opacity="1"/>
<path d="M49.2 172.5L50.0 171.5L50.7 171.4L51.5 171.4L52.2 171.4L53.0 171.4L53.8 171.4L54.5 171.4L55.3 171.4L56.0 171.4L56.8 171.4L57.6 171.4L58.3 171.4L59.1 171.4L59.8 171.4L60.6 171.4L61.4 171.4L62.1 171.4L62.9 171.4L63.6 171.4L64.4 171.4L65.2 171.4L65.9 171.4L66.7 171.3L67.4 171.3L68.2 171.3L69.0 171.3L69.7 171.3L70.5 171.3L71.2 171.4L72.0 171.4L72.8 171.4L73.5 171.4L74.3 171.5L75.0 171.6L75.8 172.6L75.8 174.2L75.0 175.2L74.3 175.3L73.5 175.4L72.8 175.4L72.0 175.4L71.2 175.4L70.5 175.5L69.7 175.5L69.0 175.5L68.2 175.5L67.4 175.5L66.7 175.5L65.9 175.5L65.2 175.5L64.4 175.5L63.6 175.6L62.9 175.6L62.1 175.6L61.4 175.6L60.6 175.6L59.8 175.6L59.1 175.6L58.3 175.5L57.6 175.5L56.8 175.5L56.0 175.4L55.3 175.4L54.5 175.4L53.8 175.4L53.0 175.3L52.2 175.3L51.5 175.3L50.7 175.3L50.0 175.1L49.2 174.1Z" fill="#2c2c2c" filter="url(#b1)" opacity="1"/>
<path d="M20.4 184.9L21.2 184.3L22.0 184.3L22.8 184.3L23.6 184.3L24.4 184.3L25.2 184.3L26.0 184.4L26.8 184.4L27.6 184.4L28.4 184.4L29.2 184.5L30.0 184.5L30.8 184.5L31.6 184.5L32.4 184.5L33.2 184.5L34.0 184.5L34.8 184.5L35.6 184.5L36.4 184.5L37.2 184.5L38.0 184.5L38.8 184.5L39.6 184.5L40.4 184.5L41.2 184.4L42.0 184.4L42.8 184.4L43.6 184.4L44.4 184.3L45.2 184.3L46.0 184.3L46.8 184.3L47.6 184.3L48.4 184.9L48.4 185.8L47.6 186.4L46.8 186.6L46.0 186.7L45.2 186.7L44.4 186.8L43.6 186.9L42.8 187.0L42.0 187.1L41.2 187.2L40.4 187.3L39.6 187.3L38.8 187.3L38.0 187.3L37.2 187.3L36.4 187.3L35.6 187.3L34.8 187.3L34.0 187.3L33.2 187.3L32.4 187.3L31.6 187.3L30.8 187.3L30.0 187.3L29.2 187.3L28.4 187.2L27.6 187.1L26.8 187.1L26.0 187.0L25.2 187.0L24.4 186.9L23.6 186.8L22.8 186.8L22.0 186.7L21.2 186.6L20.4 185.9Z" fill="#2e2e2e" filter="url(#b1)" opacity="1"/>
<path d="M49.4 184.5L50.3 183.7L51.1 183.7L52.0 183.7L52.9 183.7L53.8 183.7L54.6 183.8L55.5 183.8L56.4 183.8L57.3 183.8L58.1 183.9L59.0 183.9L59.9 183.9L60.8 184.0L61.6 184.0L62.5 184.0L63.4 184.1L64.3 184.1L65.1 184.2L66.0 184.2L66.9 184.2L67.8 184.3L68.6 184.3L69.5 184.3L70.4 184.4L71.3 184.4L72.1 184.4L73.0 184.5L73.9 184.5L74.8 184.6L75.6 184.6L76.5 184.6L77.4 184.7L78.3 184.7L79.1 184.7L80.0 185.7L80.0 186.9L79.1 187.8L78.3 187.8L77.4 187.7L76.5 187.7L75.6 187.7L74.8 187.7L73.9 187.6L73.0 187.6L72.1 187.6L71.3 187.6L70.4 187.5L69.5 187.5L68.6 187.5L67.8 187.5L66.9 187.4L66.0 187.4L65.1 187.4L64.3 187.3L63.4 187.3L62.5 187.3L61.6 187.2L60.8 187.2L59.9 187.2L59.0 187.1L58.1 187.1L57.3 187.1L56.4 187.0L55.5 187.0L54.6 186.9L53.8 186.8L52.9 186.7L52.0 186.6L51.1 186.5L50.3 186.4L49.4 185.5Z" fill="#2c2c2c" filter="url(#b1)" opacity="1"/>
<rect x="18" y="111.4" width="4.5" height="1.7" fill="#a8a8a8" opacity="0.5" filter="url(#b1)"/>
<rect x="24" y="111.4" width="6" height="1.7" fill="#a8a8a8" opacity="0.38" filter="url(#b1)"/>
<rect x="31.5" y="111.4" width="5" height="1.7" fill="#a8a8a8" opacity="0.45" filter="url(#b1)"/>
<rect x="38" y="111.4" width="4.5" height="1.7" fill="#a8a8a8" opacity="0.35" filter="url(#b1)"/>
<rect x="48" y="111.8" width="27" height="1.3" fill="#999" opacity="0.35" filter="url(#b1)"/>
<rect x="18" y="113.2" width="25" height="1.2" fill="#5a5a5a" opacity="0.3" filter="url(#b1)"/>
<ellipse cx="21.9" cy="133.7" rx="2.7" ry="1.5" fill="#2c2c2c" filter="url(#b1)" opacity="1"/>
<ellipse cx="32" cy="134.4" rx="2.2" ry="1.0" fill="#3c3c3c" filter="url(#b1)" opacity="1"/>
<ellipse cx="51.6" cy="133.8" rx="2.6" ry="1.6" fill="#282828" filter="url(#b1)" opacity="1"/>
<ellipse cx="60.5" cy="134.1" rx="2.8" ry="1.5" fill="#2a2a2a" filter="url(#b1)" opacity="1"/>
<ellipse cx="73.6" cy="134.5" rx="2.0" ry="1.5" fill="#2a2a2a" filter="url(#b1)" opacity="1"/>
<ellipse cx="24.6" cy="160.9" rx="2.0" ry="1.3" fill="#2c2c2c" filter="url(#b1)" opacity="1"/>
<ellipse cx="46.8" cy="160.6" rx="2.2" ry="1.4" fill="#2a2a2a" filter="url(#b1)" opacity="1"/>
<ellipse cx="22.6" cy="70.2" rx="1.5" ry="1.5" fill="#303030" filter="url(#b1)" opacity="1"/>
<ellipse cx="19.8" cy="118.4" rx="2.3" ry="2.3" fill="#262626" filter="url(#b1)" opacity="1"/>
<ellipse cx="26.4" cy="118.5" rx="1.8" ry="1.8" fill="#2a2a2a" filter="url(#b1)" opacity="1"/>
<ellipse cx="33" cy="118.3" rx="2.0" ry="2.0" fill="#2a2a2a" filter="url(#b1)" opacity="1"/>
<ellipse cx="41" cy="118.0" rx="2.3" ry="2.5" fill="#262626" filter="url(#b1)" opacity="1"/>
<ellipse cx="49.9" cy="117.9" rx="2.7" ry="2.8" fill="#202020" filter="url(#b1)" opacity="1"/>
<ellipse cx="73.8" cy="116.6" rx="3.0" ry="3.2" fill="#1e1e1e" filter="url(#b1)" opacity="1"/>
</g>
<text class="s" x="81.3" y="34.0" font-size="6.7" fill="#1c1c1c" stroke="#1c1c1c" stroke-width="0.22" textLength="16.1" lengthAdjust="spacingAndGlyphs">AKT1</text>
<text class="s" x="81.3" y="47.8" font-size="6.7" fill="#1c1c1c" stroke="#1c1c1c" stroke-width="0.22" textLength="46.6" lengthAdjust="spacingAndGlyphs">phospho-AKT1</text>
<text class="s" x="83.7" y="63.6" font-size="6.7" fill="#1c1c1c" stroke="#1c1c1c" stroke-width="0.22" textLength="17.4" lengthAdjust="spacingAndGlyphs">GSK3</text>
<text class="s" x="81.8" y="73.6" font-size="6.7" fill="#1c1c1c" stroke="#1c1c1c" stroke-width="0.22" textLength="47.2" lengthAdjust="spacingAndGlyphs">phospho-GSK3</text>
<text class="s" x="85.6" y="89.3" font-size="6.7" fill="#1c1c1c" stroke="#1c1c1c" stroke-width="0.22" textLength="19.4" lengthAdjust="spacingAndGlyphs">mTOR</text>
<text class="s" x="81.8" y="104.2" font-size="6.7" fill="#1c1c1c" stroke="#1c1c1c" stroke-width="0.22" textLength="49.6" lengthAdjust="spacingAndGlyphs">phospho-mTOR</text>
<text class="s" x="88.0" y="120.5" font-size="6.7" fill="#1c1c1c" stroke="#1c1c1c" stroke-width="0.22" textLength="16.0" lengthAdjust="spacingAndGlyphs">S6K1</text>
<text class="s" x="84.0" y="133.6" font-size="6.7" fill="#1c1c1c" stroke="#1c1c1c" stroke-width="0.22" textLength="45.3" lengthAdjust="spacingAndGlyphs">phospho-S6K1</text>
<text class="s" x="91.1" y="149.1" font-size="6.7" fill="#1c1c1c" stroke="#1c1c1c" stroke-width="0.22" textLength="23.8" lengthAdjust="spacingAndGlyphs">-casein</text>
<text class="s" x="85.9" y="162.7" font-size="6.7" fill="#1c1c1c" stroke="#1c1c1c" stroke-width="0.22" textLength="25.4" lengthAdjust="spacingAndGlyphs">SREBP1</text>
<text class="s" x="85.9" y="175.8" font-size="6.7" fill="#1c1c1c" stroke="#1c1c1c" stroke-width="0.22" textLength="26.1" lengthAdjust="spacingAndGlyphs">CyclinD1</text>
<text class="s" x="93.8" y="191.3" font-size="6.7" fill="#1c1c1c" stroke="#1c1c1c" stroke-width="0.22" textLength="16.9" lengthAdjust="spacingAndGlyphs">-actin</text>
<text class="r" x="102.4" y="63.8" font-size="7.6" fill="#6a6a6a" stroke="#6a6a6a" stroke-width="0.25" textLength="2.9" lengthAdjust="spacingAndGlyphs">β</text>
<text class="r" x="131.3" y="73.8" font-size="7.6" fill="#6a6a6a" stroke="#6a6a6a" stroke-width="0.25" textLength="2.9" lengthAdjust="spacingAndGlyphs">β</text>
<text class="r" x="85.4" y="148.9" font-size="8.2" fill="#6a6a6a" stroke="#6a6a6a" stroke-width="0.25" textLength="3.3" lengthAdjust="spacingAndGlyphs">β</text>
<text class="r" x="88.0" y="191.1" font-size="8.2" fill="#6a6a6a" stroke="#6a6a6a" stroke-width="0.25" textLength="3.1" lengthAdjust="spacingAndGlyphs">β</text>
</g>
<g id="panelB" class="m">
<text class="r" x="143.4" y="23" font-size="12.3" fill="#111" stroke="#111" stroke-width="0.3" textLength="6.1" lengthAdjust="spacingAndGlyphs">B</text>
<path d="M170.7 16.7V168.1H544.6" fill="none" stroke="#bababa" stroke-width="1"/>
<line x1="170.7" y1="168.10" x2="173.7" y2="168.10" stroke="#cdcdcd" stroke-width="1"/>
<text transform="translate(164.2 171.0) scale(0.860 1)" x="-2.18" y="0" font-size="8.0" text-anchor="middle" fill="#444" stroke="#444" stroke-width="0.22">0</text>
<line x1="170.7" y1="146.36" x2="173.7" y2="146.36" stroke="#cdcdcd" stroke-width="1"/>
<text transform="translate(164.2 149.26) scale(0.860 1)" x="-10.90 -6.54 -2.18" y="0" font-size="8.0" text-anchor="middle" fill="#444" stroke="#444" stroke-width="0.22">0.2</text>
<line x1="170.7" y1="124.62" x2="173.7" y2="124.62" stroke="#cdcdcd" stroke-width="1"/>
<text transform="translate(164.2 127.52) scale(0.860 1)" x="-10.90 -6.54 -2.18" y="0" font-size="8.0" text-anchor="middle" fill="#444" stroke="#444" stroke-width="0.22">0.4</text>
<line x1="170.7" y1="102.88" x2="173.7" y2="102.88" stroke="#cdcdcd" stroke-width="1"/>
<text transform="translate(164.2 105.78) scale(0.860 1)" x="-10.90 -6.54 -2.18" y="0" font-size="8.0" text-anchor="middle" fill="#444" stroke="#444" stroke-width="0.22">0.6</text>
<line x1="170.7" y1="81.14" x2="173.7" y2="81.14" stroke="#cdcdcd" stroke-width="1"/>
<text transform="translate(164.2 84.04) scale(0.860 1)" x="-10.90 -6.54 -2.18" y="0" font-size="8.0" text-anchor="middle" fill="#444" stroke="#444" stroke-width="0.22">0.8</text>
<line x1="170.7" y1="59.40" x2="173.7" y2="59.40" stroke="#cdcdcd" stroke-width="1"/>
<text transform="translate(164.2 62.3) scale(0.860 1)" x="-2.18" y="0" font-size="8.0" text-anchor="middle" fill="#444" stroke="#444" stroke-width="0.22">1</text>
<line x1="170.7" y1="37.66" x2="173.7" y2="37.66" stroke="#cdcdcd" stroke-width="1"/>
<text transform="translate(164.2 40.56) scale(0.860 1)" x="-10.90 -6.54 -2.18" y="0" font-size="8.0" text-anchor="middle" fill="#444" stroke="#444" stroke-width="0.22">1.2</text>
<line x1="170.7" y1="15.92" x2="173.7" y2="15.92" stroke="#cdcdcd" stroke-width="1"/>
<text transform="translate(164.2 18.82) scale(0.860 1)" x="-10.90 -6.54 -2.18" y="0" font-size="8.0" text-anchor="middle" fill="#444" stroke="#444" stroke-width="0.22">1.4</text>
<line x1="204.70" y1="168.1" x2="204.70" y2="165.1" stroke="#d2d2d2" stroke-width="1"/>
<line x1="238.70" y1="168.1" x2="238.70" y2="165.1" stroke="#d2d2d2" stroke-width="1"/>
<line x1="272.70" y1="168.1" x2="272.70" y2="165.1" stroke="#d2d2d2" stroke-width="1"/>
<line x1="306.70" y1="168.1" x2="306.70" y2="165.1" stroke="#d2d2d2" stroke-width="1"/>
<line x1="340.70" y1="168.1" x2="340.70" y2="165.1" stroke="#d2d2d2" stroke-width="1"/>
<line x1="374.70" y1="168.1" x2="374.70" y2="165.1" stroke="#d2d2d2" stroke-width="1"/>
<line x1="408.70" y1="168.1" x2="408.70" y2="165.1" stroke="#d2d2d2" stroke-width="1"/>
<line x1="442.70" y1="168.1" x2="442.70" y2="165.1" stroke="#d2d2d2" stroke-width="1"/>
<line x1="476.70" y1="168.1" x2="476.70" y2="165.1" stroke="#d2d2d2" stroke-width="1"/>
<line x1="510.70" y1="168.1" x2="510.70" y2="165.1" stroke="#d2d2d2" stroke-width="1"/>
<line x1="544.70" y1="168.1" x2="544.70" y2="165.1" stroke="#d2d2d2" stroke-width="1"/>
<text transform="translate(149.4 125.3) rotate(-90) scale(0.860 1)" x="2.27 6.80 11.34 15.87 20.41 24.94 29.48 34.01 38.55 45.35 52.15 56.69 61.22 65.76 70.29 74.83" y="0" font-size="8.4" text-anchor="middle" fill="#555" stroke="#555" stroke-width="0.22">proteins/β-actin</text>
<rect x="197.6" y="13.3" width="63" height="20.3" fill="#fff" stroke="#c8c8c8" stroke-width="0.8"/>
<rect x="200.8" y="17.4" width="3.9" height="4.1" fill="#fff" stroke="#222" stroke-width="0.8"/>
<rect x="200.4" y="27.0" width="4.7" height="4.7" fill="#000"/>
<text transform="translate(208 21.9) scale(0.840 1)" x="2.31 6.93 11.55 16.17 20.79 25.40 30.02 34.64 39.26 43.88 48.50 53.12 57.74" y="0" font-size="8.4" text-anchor="middle" fill="#333" stroke="#333" stroke-width="0.22">control group</text>
<text transform="translate(208 32.1) scale(0.800 1)" x="2.42 7.28 12.12 16.97 21.82 26.67 31.52 36.37 41.22 46.07" y="0" font-size="8.4" text-anchor="middle" fill="#333" stroke="#333" stroke-width="0.22">LiCl group</text>
<rect x="177.50" y="63.34" width="9.85" height="104.76" fill="#fff" stroke="#4c4c4c" stroke-width="0.85"/>
<rect x="187.35" y="62.94" width="9.75" height="105.56" fill="#000"/>
<path d="M182.67 56.55V69.32M180.87 56.55h3.6M180.87 69.32h3.6" fill="none" stroke="#505050" stroke-width="0.9"/>
<path d="M192.22 55.47V62.94M190.42 55.47h3.6" fill="none" stroke="#505050" stroke-width="0.9"/>
<text transform="translate(187.4 181.8) scale(0.680 1)" x="-8.56 -2.85 2.85 8.56" y="0" font-size="8.5" text-anchor="middle" fill="#333" stroke="#333" stroke-width="0.22">AKT1</text>
<rect x="211.50" y="80.22" width="9.85" height="87.88" fill="#fff" stroke="#4c4c4c" stroke-width="0.85"/>
<rect x="221.35" y="62.40" width="9.75" height="106.10" fill="#000"/>
<path d="M216.67 71.49V88.15M214.87 71.49h3.6M214.87 88.15h3.6" fill="none" stroke="#505050" stroke-width="0.9"/>
<path d="M226.22 57.96V62.40M224.42 57.96h3.6" fill="none" stroke="#505050" stroke-width="0.9"/>
<text transform="translate(221.4 181.8) scale(0.725 1)" x="-13.38 -8.03 -2.68 2.68 8.03 13.38" y="0" font-size="8.5" text-anchor="middle" fill="#333" stroke="#333" stroke-width="0.22">p-AKT1</text>
<rect x="245.50" y="81.84" width="9.85" height="86.26" fill="#fff" stroke="#4c4c4c" stroke-width="0.85"/>
<rect x="255.35" y="114.22" width="9.75" height="54.28" fill="#000"/>
<path d="M250.67 76.90V85.98M248.87 76.90h3.6M248.87 85.98h3.6" fill="none" stroke="#505050" stroke-width="0.9"/>
<path d="M260.23 109.79V114.22M258.43 109.79h3.6" fill="none" stroke="#505050" stroke-width="0.9"/>
<text transform="translate(259.43 108.7) scale(1.000 1)" x="-2.45 2.45" y="0" font-size="9.4" text-anchor="middle" fill="#4a4a4a" font-family="DejaVu Serif, serif" stroke="#4a4a4a" stroke-width="0.3">**</text>
<text transform="translate(255.4 181.8) scale(0.725 1)" x="-13.38 -8.03 -2.68 2.68 10.70" y="0" font-size="8.5" text-anchor="middle" fill="#333" stroke="#333" stroke-width="0.22">GSK3β</text>
<rect x="279.50" y="109.43" width="9.85" height="58.67" fill="#fff" stroke="#4c4c4c" stroke-width="0.85"/>
<rect x="289.35" y="53.42" width="9.75" height="115.08" fill="#000"/>
<path d="M284.67 105.68V112.39M282.87 105.68h3.6M282.87 112.39h3.6" fill="none" stroke="#505050" stroke-width="0.9"/>
<path d="M294.22 43.89V53.42M292.42 43.89h3.6" fill="none" stroke="#505050" stroke-width="0.9"/>
<text transform="translate(293.72 40.8) scale(1.000 1)" x="-2.45 2.45" y="0" font-size="9.4" text-anchor="middle" fill="#4a4a4a" font-family="DejaVu Serif, serif" stroke="#4a4a4a" stroke-width="0.3">**</text>
<text transform="translate(289.4 181.8) scale(0.752 1)" x="-18.06 -12.90 -7.74 -2.58 2.58 7.74 15.48" y="0" font-size="8.5" text-anchor="middle" fill="#333" stroke="#333" stroke-width="0.22">p-GSK3β</text>
<rect x="313.50" y="115.81" width="9.85" height="52.29" fill="#fff" stroke="#4c4c4c" stroke-width="0.85"/>
<rect x="323.35" y="45.73" width="9.75" height="122.77" fill="#000"/>
<path d="M318.67 110.55V120.28M316.87 110.55h3.6M316.87 120.28h3.6" fill="none" stroke="#505050" stroke-width="0.9"/>
<path d="M328.22 39.35V45.73M326.42 39.35h3.6" fill="none" stroke="#505050" stroke-width="0.9"/>
<text transform="translate(328.82 36.7) scale(1.000 1)" x="-2.45 2.45" y="0" font-size="9.4" text-anchor="middle" fill="#4a4a4a" font-family="DejaVu Serif, serif" stroke="#4a4a4a" stroke-width="0.3">**</text>
<text transform="translate(323.4 181.8) scale(0.680 1)" x="-8.56 -2.85 2.85 8.56" y="0" font-size="8.5" text-anchor="middle" fill="#333" stroke="#333" stroke-width="0.22">mTOR</text>
<rect x="347.50" y="112.79" width="9.85" height="55.31" fill="#fff" stroke="#4c4c4c" stroke-width="0.85"/>
<rect x="357.35" y="69.32" width="9.75" height="99.18" fill="#000"/>
<path d="M352.67 105.35V119.42M350.87 105.35h3.6M350.87 119.42h3.6" fill="none" stroke="#505050" stroke-width="0.9"/>
<path d="M362.22 63.15V69.32M360.42 63.15h3.6" fill="none" stroke="#505050" stroke-width="0.9"/>
<text transform="translate(362.82 61.3) scale(1.000 1)" x="-2.45 2.45" y="0" font-size="9.4" text-anchor="middle" fill="#4a4a4a" font-family="DejaVu Serif, serif" stroke="#4a4a4a" stroke-width="0.3">**</text>
<text transform="translate(357.4 181.8) scale(0.716 1)" x="-13.55 -8.13 -2.71 2.71 8.13 13.55" y="0" font-size="8.5" text-anchor="middle" fill="#333" stroke="#333" stroke-width="0.22">p-mTOR</text>
<rect x="381.50" y="100.77" width="9.85" height="67.33" fill="#fff" stroke="#4c4c4c" stroke-width="0.85"/>
<rect x="391.35" y="66.18" width="9.75" height="102.32" fill="#000"/>
<path d="M386.67 97.02V103.73M384.87 97.02h3.6M384.87 103.73h3.6" fill="none" stroke="#505050" stroke-width="0.9"/>
<path d="M396.22 59.04V66.18M394.42 59.04h3.6" fill="none" stroke="#505050" stroke-width="0.9"/>
<text transform="translate(396.82 56.2) scale(1.000 1)" x="-2.45 2.45" y="0" font-size="9.4" text-anchor="middle" fill="#4a4a4a" font-family="DejaVu Serif, serif" stroke="#4a4a4a" stroke-width="0.3">**</text>
<text transform="translate(391.4 181.8) scale(0.680 1)" x="-8.56 -2.85 2.85 8.56" y="0" font-size="8.5" text-anchor="middle" fill="#333" stroke="#333" stroke-width="0.22">S6K1</text>
<rect x="415.50" y="115.81" width="9.85" height="52.29" fill="#fff" stroke="#4c4c4c" stroke-width="0.85"/>
<rect x="425.35" y="71.27" width="9.75" height="97.23" fill="#000"/>
<path d="M420.67 112.06V118.77M418.87 112.06h3.6M418.87 118.77h3.6" fill="none" stroke="#505050" stroke-width="0.9"/>
<path d="M430.22 64.89V71.27M428.42 64.89h3.6" fill="none" stroke="#505050" stroke-width="0.9"/>
<text transform="translate(430.82 61.3) scale(1.000 1)" x="-2.45 2.45" y="0" font-size="9.4" text-anchor="middle" fill="#4a4a4a" font-family="DejaVu Serif, serif" stroke="#4a4a4a" stroke-width="0.3">**</text>
<text transform="translate(425.4 181.8) scale(0.740 1)" x="-13.11 -7.86 -2.62 2.62 7.86 13.11" y="0" font-size="8.5" text-anchor="middle" fill="#333" stroke="#333" stroke-width="0.22">p-S6K1</text>
<rect x="449.50" y="106.51" width="9.85" height="61.59" fill="#fff" stroke="#4c4c4c" stroke-width="0.85"/>
<rect x="459.35" y="62.94" width="9.75" height="105.56" fill="#000"/>
<path d="M454.67 99.51V112.71M452.87 99.51h3.6M452.87 112.71h3.6" fill="none" stroke="#505050" stroke-width="0.9"/>
<path d="M464.22 57.20V62.94M462.42 57.20h3.6" fill="none" stroke="#505050" stroke-width="0.9"/>
<text transform="translate(464.82 54.1) scale(1.000 1)" x="-2.45 2.45" y="0" font-size="9.4" text-anchor="middle" fill="#4a4a4a" font-family="DejaVu Serif, serif" stroke="#4a4a4a" stroke-width="0.3">**</text>
<text transform="translate(459.4 181.8) scale(0.680 1)" x="-14.26 -8.56 -2.85 2.85 8.56 14.26" y="0" font-size="8.5" text-anchor="middle" fill="#333" stroke="#333" stroke-width="0.22">SREBP1</text>
<rect x="483.50" y="80.76" width="9.85" height="87.34" fill="#fff" stroke="#4c4c4c" stroke-width="0.85"/>
<rect x="493.35" y="39.24" width="9.75" height="129.26" fill="#000"/>
<path d="M488.67 71.92V88.80M486.87 71.92h3.6M486.87 88.80h3.6" fill="none" stroke="#505050" stroke-width="0.9"/>
<path d="M498.22 31.56V39.24M496.42 31.56h3.6" fill="none" stroke="#505050" stroke-width="0.9"/>
<text transform="translate(498.22 28.0) scale(1.000 1)" x="-2.45 2.45" y="0" font-size="9.4" text-anchor="middle" fill="#4a4a4a" font-family="DejaVu Serif, serif" stroke="#4a4a4a" stroke-width="0.3">**</text>
<text transform="translate(493.4 181.8) scale(0.860 1)" x="-2.26 4.51" y="0" font-size="8.5" text-anchor="middle" fill="#333" stroke="#333" stroke-width="0.22">β-</text>
<rect x="517.50" y="118.74" width="9.85" height="49.36" fill="#fff" stroke="#4c4c4c" stroke-width="0.85"/>
<rect x="527.35" y="48.33" width="9.75" height="120.17" fill="#000"/>
<path d="M522.68 115.31V121.37M520.88 115.31h3.6M520.88 121.37h3.6" fill="none" stroke="#505050" stroke-width="0.9"/>
<path d="M532.23 40.11V48.33M530.43 40.11h3.6" fill="none" stroke="#505050" stroke-width="0.9"/>
<text transform="translate(532.83 36.7) scale(1.000 1)" x="-2.45 2.45" y="0" font-size="9.4" text-anchor="middle" fill="#4a4a4a" font-family="DejaVu Serif, serif" stroke="#4a4a4a" stroke-width="0.3">**</text>
<text transform="translate(527.4 181.8) scale(0.809 1)" x="-16.80 -12.00 -7.20 -2.40 2.40 7.20 12.00 16.80" y="0" font-size="8.5" text-anchor="middle" fill="#333" stroke="#333" stroke-width="0.22">CyclinD1</text>
<text transform="translate(493.4 190.6) scale(0.860 1)" x="-11.28 -6.77 -2.26 2.26 6.77 11.28" y="0" font-size="8.5" text-anchor="middle" fill="#333" stroke="#333" stroke-width="0.22">casein</text>
</g>
<g id="panelC1" class="m">
<text class="r" x="37.2" y="218.5" font-size="16.6" fill="#111" stroke="#111" stroke-width="0.35" textLength="6.9" lengthAdjust="spacingAndGlyphs">C</text>
<path d="M62.3 207.3V359.2H269" fill="none" stroke="#c4c4c4" stroke-width="1"/>
<line x1="62.3" y1="359.20" x2="65.3" y2="359.20" stroke="#c4c4c4" stroke-width="1"/>
<text transform="translate(55.9 363.5) scale(0.920 1)" x="-7.09 -2.36" y="0" font-size="9.6" text-anchor="middle" fill="#333" stroke="#333" stroke-width="0.22">70</text>
<line x1="62.3" y1="321.22" x2="65.3" y2="321.22" stroke="#c4c4c4" stroke-width="1"/>
<text transform="translate(55.9 325.52) scale(0.920 1)" x="-7.09 -2.36" y="0" font-size="9.6" text-anchor="middle" fill="#333" stroke="#333" stroke-width="0.22">75</text>
<line x1="62.3" y1="283.24" x2="65.3" y2="283.24" stroke="#c4c4c4" stroke-width="1"/>
<text transform="translate(55.9 287.54) scale(0.920 1)" x="-7.09 -2.36" y="0" font-size="9.6" text-anchor="middle" fill="#333" stroke="#333" stroke-width="0.22">80</text>
<line x1="62.3" y1="245.26" x2="65.3" y2="245.26" stroke="#c4c4c4" stroke-width="1"/>
<text transform="translate(55.9 249.56) scale(0.920 1)" x="-7.09 -2.36" y="0" font-size="9.6" text-anchor="middle" fill="#333" stroke="#333" stroke-width="0.22">85</text>
<line x1="62.3" y1="207.28" x2="65.3" y2="207.28" stroke="#c4c4c4" stroke-width="1"/>
<text transform="translate(55.9 211.58) scale(0.920 1)" x="-7.09 -2.36" y="0" font-size="9.6" text-anchor="middle" fill="#333" stroke="#333" stroke-width="0.22">90</text>
<line x1="165.9" y1="359.2" x2="165.9" y2="355.7" stroke="#c4c4c4" stroke-width="1"/>
<line x1="269" y1="359.2" x2="269" y2="355.7" stroke="#c4c4c4" stroke-width="1"/>
<text transform="translate(43.8 359.6) rotate(-90) scale(0.840 1)" x="2.92 8.75 14.58 20.42 26.25 32.08 37.92 43.75 49.58 55.42 61.25 67.08 72.92 78.75 84.58 90.42 96.25 102.08 107.92 113.75 119.58 125.42 131.25 137.08 142.92 148.75 154.58" y="0" font-size="10.4" text-anchor="middle" fill="#444" stroke="#444" stroke-width="0.22">values of cell viability(%)</text>
<rect x="102.1" y="262.9" width="23.4" height="96.70" fill="#000"/>
<rect x="205.2" y="232.0" width="23.6" height="127.60" fill="#000"/>
<path d="M113.9 259.5V263M111.8 259.5h4.3" fill="none" stroke="#484848" stroke-width="0.9"/>
<path d="M216.9 228.8V232.2M214.8 228.8h4.1" fill="none" stroke="#666" stroke-width="0.9"/>
<text transform="translate(216.8 228.9) scale(1.000 1)" x="-2.45 2.45" y="0" font-size="9.4" text-anchor="middle" fill="#444" font-family="DejaVu Serif, serif" stroke="#4a4a4a" stroke-width="0.3">**</text>
<text transform="translate(85.4 376.5) scale(0.850 1)" x="2.61 7.82 13.03 18.24 23.45 28.66 33.88 39.09 44.30 49.51 54.72 59.94 65.15" y="0" font-size="10.8" text-anchor="middle" fill="#333" stroke="#333" stroke-width="0.22">control group</text>
<text transform="translate(195.6 376.5) scale(0.820 1)" x="2.69 8.07 13.45 18.82 24.20 29.58 34.96 40.34 45.71 51.09" y="0" font-size="10.8" text-anchor="middle" fill="#333" stroke="#333" stroke-width="0.22">LiCl group</text>
</g>
<g id="panelC2" class="m">
<path d="M329.6 205.3V352.2H509.6" fill="none" stroke="#c4c4c4" stroke-width="1"/>
<line x1="329.6" y1="352.20" x2="332.6" y2="352.20" stroke="#c4c4c4" stroke-width="1"/>
<text transform="translate(322.7 356.7) scale(0.950 1)" x="-35.05 -30.38 -25.71 -21.03 -16.36 -11.68 -7.01 -2.34" y="0" font-size="9.8" text-anchor="middle" fill="#333" stroke="#333" stroke-width="0.22">3.00E+05</text>
<line x1="329.6" y1="329.70" x2="332.6" y2="329.70" stroke="#c4c4c4" stroke-width="1"/>
<text transform="translate(322.7 334.2) scale(0.950 1)" x="-35.05 -30.38 -25.71 -21.03 -16.36 -11.68 -7.01 -2.34" y="0" font-size="9.8" text-anchor="middle" fill="#333" stroke="#333" stroke-width="0.22">3.20E+05</text>
<line x1="329.6" y1="307.20" x2="332.6" y2="307.20" stroke="#c4c4c4" stroke-width="1"/>
<text transform="translate(322.7 311.7) scale(0.950 1)" x="-35.05 -30.38 -25.71 -21.03 -16.36 -11.68 -7.01 -2.34" y="0" font-size="9.8" text-anchor="middle" fill="#333" stroke="#333" stroke-width="0.22">3.40E+05</text>
<line x1="329.6" y1="284.70" x2="332.6" y2="284.70" stroke="#c4c4c4" stroke-width="1"/>
<text transform="translate(322.7 289.2) scale(0.950 1)" x="-35.05 -30.38 -25.71 -21.03 -16.36 -11.68 -7.01 -2.34" y="0" font-size="9.8" text-anchor="middle" fill="#333" stroke="#333" stroke-width="0.22">3.60E+05</text>
<line x1="329.6" y1="262.20" x2="332.6" y2="262.20" stroke="#c4c4c4" stroke-width="1"/>
<text transform="translate(322.7 266.7) scale(0.950 1)" x="-35.05 -30.38 -25.71 -21.03 -16.36 -11.68 -7.01 -2.34" y="0" font-size="9.8" text-anchor="middle" fill="#333" stroke="#333" stroke-width="0.22">3.80E+05</text>
<line x1="329.6" y1="239.70" x2="332.6" y2="239.70" stroke="#c4c4c4" stroke-width="1"/>
<text transform="translate(322.7 244.2) scale(0.950 1)" x="-35.05 -30.38 -25.71 -21.03 -16.36 -11.68 -7.01 -2.34" y="0" font-size="9.8" text-anchor="middle" fill="#333" stroke="#333" stroke-width="0.22">4.00E+05</text>
<line x1="329.6" y1="217.20" x2="332.6" y2="217.20" stroke="#c4c4c4" stroke-width="1"/>
<text transform="translate(322.7 221.7) scale(0.950 1)" x="-35.05 -30.38 -25.71 -21.03 -16.36 -11.68 -7.01 -2.34" y="0" font-size="9.8" text-anchor="middle" fill="#333" stroke="#333" stroke-width="0.22">4.20E+05</text>
<line x1="419.6" y1="352.2" x2="419.6" y2="348.7" stroke="#c4c4c4" stroke-width="1"/>
<line x1="509.6" y1="352.2" x2="509.6" y2="348.7" stroke="#c4c4c4" stroke-width="1"/>
<text transform="translate(284.2 356.7) rotate(-90) scale(0.840 1)" x="2.89 8.66 14.43 20.21 25.98 31.76 37.53 43.30 49.08 54.85 60.63 66.40 72.17 77.95 83.72 89.49 95.27 101.04 106.82 112.59 118.36 124.14 129.91 135.68 141.46 147.23 153.01 158.78" y="0" font-size="10.4" text-anchor="middle" fill="#444" stroke="#444" stroke-width="0.22">values of cell proliferation</text>
<rect x="363.9" y="249.2" width="20.55" height="103.40" fill="#000"/>
<rect x="453.9" y="217.3" width="20.3" height="135.30" fill="#000"/>
<path d="M374.1 235.9V249.4M371.9 235.9h4.7" fill="none" stroke="#6a6a6a" stroke-width="1"/>
<path d="M464.1 210.6V217.4M461.9 210.6h4.5" fill="none" stroke="#555" stroke-width="0.9"/>
<text transform="translate(464.1 210.8) scale(1.000 1)" x="0.00" y="0" font-size="9.4" text-anchor="middle" fill="#444" font-family="DejaVu Serif, serif" stroke="#4a4a4a" stroke-width="0.3">*</text>
<text transform="translate(358.5 369.5) scale(0.850 1)" x="2.65 7.94 13.24 18.53 23.82 29.12 34.41 39.71 45.00 50.29 55.59 60.88 66.18" y="0" font-size="10.8" text-anchor="middle" fill="#333" stroke="#333" stroke-width="0.22">control group</text>
<text transform="translate(440 369.5) scale(0.820 1)" x="2.74 8.23 13.72 19.21 24.70 30.18 35.67 41.16 46.65 52.13" y="0" font-size="10.8" text-anchor="middle" fill="#333" stroke="#333" stroke-width="0.22">LiCl group</text>
</g>
</svg></body></html>
